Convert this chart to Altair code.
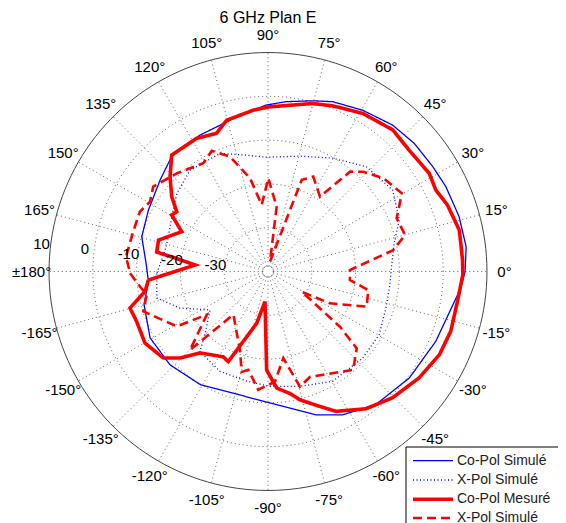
import altair as alt
import pandas as pd
import numpy as np

TITLE = "6 GHz Plan E"
SERIES_NAMES = ["Co-Pol Simulé", "X-Pol Simulé", "Co-Pol Mesuré", "X-Pol Simulé"]
SERIES_COLORS = ["#0000ff", "#0000ff", "#ff0000", "#ff0000"]
SERIES_DASH = [[1, 0], [1, 2.5], [1, 0], [9, 5]]
SERIES_WIDTH = [1.3, 1.3, 3.6, 2.6]

# Co-Pol Simulé (blue solid)
copol_sim_ang = [-175.3, -165.0, -150.6, -136.4, -121.0, -105.9, -89.4, -71.5, -62.5, -51.0,
                 -37.0, -22.6, -10.2, -4.9, 0.0, 7.1, 16.0, 25.5, 32.5, 41.2, 49.6, 59.6, 69.1,
                 75.3, 83.9, 90.7, 102.8, 116.5, 128.7, 139.7, 152.8, 164.6, 176.2]
copol_sim_db = [-12.6, -10.7, -9.1, -9.1, -9.9, -11.1, -10.0, -5.5, -3.1, -0.9,
                0.4, 1.5, 2.9, 4.2, 5.0, 5.6, 5.4, 5.0, 4.6, 4.4, 3.9, 2.7, 1.5,
                0.3, -1.0, -2.0, -4.2, -5.2, -5.4, -7.7, -9.3, -10.1, -12.1]

# X-Pol Simulé (blue dotted)
xpol_sim_ang = [-179.0, -166.6, -157.5, -146.4, -134.9, -130.4, -115.7, -101.0, -89.4, -74.7,
                -59.5, -42.4, -29.6, -17.2, -6.2, 0.0, 12.6, 21.4, 33.2, 46.9, 60.3, 74.8,
                91.0, 100.4, 112.1, 127.5, 139.4, 147.0, 160.8, 168.2]
xpol_sim_db = [-14.6, -13.9, -18.2, -24.1, -19.6, -16.0, -14.7, -14.5, -13.8, -12.8,
               -10.9, -10.7, -10.8, -11.8, -12.0, -11.9, -10.5, -7.8, -6.0, -7.2, -10.2, -12.7,
               -13.9, -13.0, -10.9, -10.8, -12.6, -14.2, -15.9, -16.0]

# Co-Pol Mesuré (red thick solid)
copol_mes_ang = [-175.9, -170.9, -165.2, -159.2, -149.8, -140.4, -135.5, -129.8, -117.7, -113.8,
                 -102.3, -95.7, -90.8, -85.7, -79.8, -76.0, -69.2, -64.1, -54.5, -45.4,
                 -35.1, -25.9, -18.1, -8.9, -0.9, 3.4, 12.2, 20.3, 25.9, 31.3, 40.7, 48.6,
                 59.1, 68.7, 75.1, 89.5, 95.2, 105.3, 110.4, 118.2, 129.6, 136.0, 142.2,
                 146.8, 149.6, 155.2, 164.0, 170.1, 171.5, 174.9]
copol_mes_db = [-12.6, -11.6, -7.4, -7.9, -7.5, -9.0, -11.8, -15.8, -18.0, -17.5,
                -27.9, -33.1, -17.5, -13.3, -11.7, -9.8, -7.1, -4.5, -1.5, 0.5,
                2.2, 3.5, 3.9, 3.8, 4.5, 4.5, 4.7, 3.7, 2.6, 3.1, 2.5, 3.1,
                2.1, 0.6, -0.3, -2.4, -3.0, -4.2, -6.3, -5.5, -5.5, -8.9, -12.2,
                -15.1, -14.5, -18.3, -14.0, -14.2, -18.1, -23.3]

# X-Pol (red dashed)
xpol_mes_ang = [-179.3, -173.2, -169.2, -162.3, -149.0, -144.8, -134.8, -128.8, -109.3, -104.7,
                -101.3, -94.7, -86.4, -80.0, -74.5, -68.2, -49.1, -40.9, -37.5, -31.0,
                -27.2, -19.6, -10.5, -5.9, 1.0, 9.7, 14.9, 22.5, 30.3, 38.9, 46.3, 50.6,
                55.2, 64.5, 69.8, 78.5, 82.4, 89.8, 95.4, 100.9, 108.3, 115.0, 120.9,
                132.9, 143.5, 149.4, 155.0, 163.5, 174.0]
xpol_mes_db = [-8.5, -10.6, -11.8, -10.1, -15.7, -22.9, -14.7, -27.4, -20.7, -16.3,
               -17.1, -12.9, -14.8, -19.9, -12.7, -14.1, -10.3, -13.2, -19.3, -31.0,
               -24.1, -16.1, -16.7, -21.2, -21.3, -11.0, -7.6, -8.2, -4.6, -6.1, -8.5, -10.5,
               -19.2, -16.0, -17.7, -37.7, -25.1, -18.7, -24.7, -18.3, -12.4, -9.6, -11.2,
               -9.4, -7.4, -8.7, -7.7, -7.9, -7.4]

R_MIN, R_MAX = -40, 10
RING_DB = [-30, -20, -10, 0]
RING_LABELS = ["10", "0", "-10", "-20", "-30"]
RING_LABEL_DB = [10, 0, -10, -20, -30]
SPOKE_ANG = list(range(0, 360, 15))
ANGLE_TICKS = list(range(0, 360, 15))
ANGLE_TEXT = ["0°", "15°", "30°", "45°", "60°", "75°", "90°", "105°", "120°", "135°", "150°",
              "165°", "±180°", "-165°", "-150°", "-135°", "-120°", "-105°", "-90°", "-75°",
              "-60°", "-45°", "-30°", "-15°"]

FONT = "Liberation Sans, Arial, Helvetica, sans-serif"
DOM = [-58, 58]
xs = alt.Scale(domain=DOM)
ys = alt.Scale(domain=DOM)
XE = alt.X("x:Q", scale=xs, axis=None)
YE = alt.Y("y:Q", scale=ys, axis=None)

# ---- curves
series = [(copol_sim_ang, copol_sim_db), (xpol_sim_ang, xpol_sim_db),
          (copol_mes_ang, copol_mes_db), (xpol_mes_ang, xpol_mes_db)]
rows = []
for s, (a, d) in enumerate(series):
    aa = list(a) + [a[0] + 360]
    dd = list(d) + [d[0]]
    for i, (ang, db) in enumerate(zip(aa, dd)):
        rows.append({"s": s, "i": i, "ang": ang, "db": db})
curves = pd.DataFrame(rows)

curve_base = alt.Chart(curves).transform_calculate(
    rr=f"max(datum.db - ({R_MIN}), 0)"
).transform_calculate(
    x="datum.rr*cos(datum.ang*PI/180)", y="datum.rr*sin(datum.ang*PI/180)"
)
curve_layers = []
for s in range(4):
    curve_layers.append(
        curve_base.transform_filter(f"datum.s == {s}").mark_line(
            color=SERIES_COLORS[s], strokeWidth=SERIES_WIDTH[s], strokeDash=SERIES_DASH[s],
            strokeCap="butt", strokeJoin="miter"
        ).encode(x=XE, y=YE, order="i:Q")
    )

# ---- grid rings
ring_rows = []
circ = np.arange(0, 361, 2)
for rdb in RING_DB + [R_MAX]:
    for t in circ:
        ring_rows.append({"ring": rdb, "ang": float(t), "r": rdb - R_MIN})
for t in circ:
    ring_rows.append({"ring": -99, "ang": float(t), "r": 1.2})
rings = pd.DataFrame(ring_rows)
ring_base = alt.Chart(rings).transform_calculate(
    x="datum.r*cos(datum.ang*PI/180)", y="datum.r*sin(datum.ang*PI/180)"
)
inner_rings = ring_base.transform_filter(f"datum.ring != {R_MAX}").mark_line(
    color="#333333", strokeWidth=1, strokeDash=[1, 3], opacity=0.75
).encode(x=XE, y=YE, detail="ring:N", order="ang:Q")
outer_ring = ring_base.transform_filter(f"datum.ring == {R_MAX}").mark_line(
    color="#444444", strokeWidth=1
).encode(x=XE, y=YE, order="ang:Q")

# ---- spokes
spokes = pd.DataFrame({"ang": SPOKE_ANG})
spoke_layer = alt.Chart(spokes).transform_calculate(
    x="1.2*cos(datum.ang*PI/180)", y="1.2*sin(datum.ang*PI/180)",
    x2=f"{R_MAX - R_MIN}*cos(datum.ang*PI/180)", y2=f"{R_MAX - R_MIN}*sin(datum.ang*PI/180)"
).mark_rule(color="#333333", strokeWidth=1, strokeDash=[1, 3], opacity=0.75).encode(
    x=XE, y=YE, x2="x2:Q", y2="y2:Q")

# ---- angle labels
alabels = pd.DataFrame({"ang": ANGLE_TICKS, "txt": ANGLE_TEXT})
alabel_layer = alt.Chart(alabels).transform_calculate(
    x="54*cos(datum.ang*PI/180)", y="54*sin(datum.ang*PI/180)"
).mark_text(font=FONT, fontSize=15, color="black", align="center", baseline="middle").encode(
    x=XE, y=YE, text="txt:N")

# ---- radial labels
rlabels = pd.DataFrame({"db": RING_LABEL_DB, "txt": RING_LABELS})
rlabel_layer = alt.Chart(rlabels).transform_calculate(
    rr=f"datum.db - ({R_MIN}) + 2.1"
).transform_calculate(
    x="datum.rr*cos(173*PI/180)", y="datum.rr*sin(173*PI/180)"
).mark_text(font=FONT, fontSize=15, color="black", align="center", baseline="middle").encode(
    x=XE, y=YE, text="txt:N")

title_layer = alt.Chart(pd.DataFrame({"t": [TITLE]})).mark_text(
    font=FONT, fontSize=16, color="black", align="center", baseline="middle"
).encode(x=alt.value(254), y=alt.value(0.5), text="t:N")

# ---- legend (manual, box cut by the page edge as in the reference)
LEG_X0, LEG_Y0 = 392, 429.5
leg_rows = pd.DataFrame({"s": [0, 1, 2, 3], "name": SERIES_NAMES,
                         "yy": [443.2, 462.5, 481.8, 500.5]})
legend_box = alt.Chart(pd.DataFrame({"a": [0]})).mark_rect(
    fill="white", stroke="black", strokeWidth=1
).encode(x=alt.value(LEG_X0), x2=alt.value(LEG_X0 + 175),
         y=alt.value(LEG_Y0), y2=alt.value(LEG_Y0 + 90))
legend_layers = [legend_box]
for s in range(4):
    legend_layers.append(
        alt.Chart(leg_rows).transform_filter(f"datum.s == {s}").mark_rule(
            color=SERIES_COLORS[s], strokeWidth=SERIES_WIDTH[s], strokeDash=SERIES_DASH[s],
            strokeCap="butt"
        ).encode(x=alt.value(LEG_X0 + 7), x2=alt.value(LEG_X0 + 47),
                 y=alt.Y("yy:Q", scale=None))
    )
legend_layers.append(
    alt.Chart(leg_rows).mark_text(font=FONT, fontSize=14, color="#222222", align="left",
                                  baseline="middle").encode(
        x=alt.value(LEG_X0 + 51), y=alt.Y("yy:Q", scale=None), text="name:N")
)

chart = alt.layer(
    inner_rings, spoke_layer, outer_ring, *curve_layers, alabel_layer, rlabel_layer,
    title_layer, *legend_layers
).properties(
    width=508, height=508,
    autosize=alt.AutoSizeParams(type="none"),
    padding={"left": 6, "top": 9.5, "right": 36, "bottom": 0},
).configure_view(stroke=None)

chart.save("out.html", embed_options={"renderer": "svg", "actions": False})
